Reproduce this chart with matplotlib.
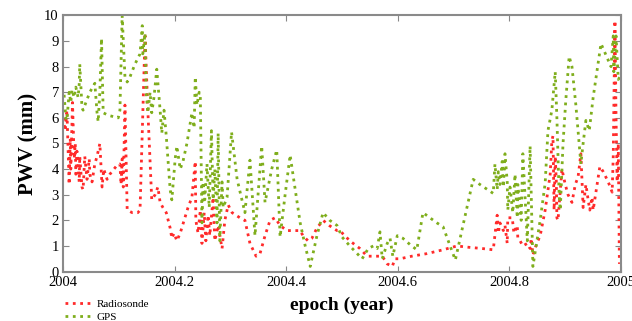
import numpy as np
import matplotlib
matplotlib.use('Agg')
import matplotlib.pyplot as plt

# 探空 (Radiosonde) PWV 序列
radio_t = [2004.000, 2004.004, 2004.007, 2004.011, 2004.013, 2004.014, 2004.017, 2004.020, 2004.022, 2004.023,
           2004.025, 2004.029, 2004.030, 2004.034, 2004.036, 2004.039, 2004.043, 2004.047, 2004.048, 2004.052,
           2004.057, 2004.061, 2004.066, 2004.070, 2004.073, 2004.079, 2004.084, 2004.095, 2004.102, 2004.104,
           2004.106, 2004.108, 2004.111, 2004.115, 2004.124, 2004.134, 2004.138, 2004.147, 2004.152, 2004.159,
           2004.165, 2004.170, 2004.174, 2004.179, 2004.185, 2004.192, 2004.195, 2004.199, 2004.204, 2004.210,
           2004.217, 2004.224, 2004.231, 2004.237, 2004.238, 2004.242, 2004.246, 2004.249, 2004.253, 2004.256,
           2004.260, 2004.263, 2004.269, 2004.272, 2004.278, 2004.285, 2004.290, 2004.296, 2004.303, 2004.310,
           2004.317, 2004.326, 2004.335, 2004.346, 2004.353, 2004.362, 2004.371, 2004.380, 2004.389, 2004.401,
           2004.425, 2004.430, 2004.439, 2004.446, 2004.455, 2004.466, 2004.477, 2004.491, 2004.496, 2004.514,
           2004.532, 2004.545, 2004.556, 2004.572, 2004.581, 2004.590, 2004.595, 2004.604, 2004.625, 2004.652,
           2004.681, 2004.706, 2004.726, 2004.751, 2004.771, 2004.778, 2004.780, 2004.783, 2004.789, 2004.792,
           2004.796, 2004.797, 2004.805, 2004.808, 2004.814, 2004.815, 2004.819, 2004.824, 2004.832, 2004.837,
           2004.839, 2004.842, 2004.849, 2004.855, 2004.864, 2004.873, 2004.876, 2004.878, 2004.880, 2004.882,
           2004.884, 2004.885, 2004.887, 2004.894, 2004.900, 2004.905, 2004.912, 2004.918, 2004.923, 2004.928,
           2004.932, 2004.937, 2004.941, 2004.944, 2004.948, 2004.950, 2004.957, 2004.962, 2004.968, 2004.977,
           2004.984, 2004.986, 2004.989, 2004.991, 2004.993, 2004.995, 2004.997]
radio_pwv = [6.0, 5.5, 6.3, 3.4, 5.2, 4.0, 6.6, 4.4, 5.0, 3.8,
             4.7, 3.5, 4.5, 3.3, 3.2, 4.5, 3.6, 4.4, 3.8, 3.5,
             4.2, 4.5, 5.0, 3.3, 4.0, 3.6, 3.8, 4.1, 4.2, 3.4,
             4.4, 3.3, 6.5, 2.4, 2.3, 2.3, 2.4, 9.2, 6.3, 2.8,
             3.0, 3.3, 2.7, 2.5, 2.3, 1.7, 1.3, 1.5, 1.2, 1.5,
             2.0, 2.5, 2.9, 4.3, 2.0, 1.5, 2.4, 1.1, 2.3, 1.2,
             2.2, 1.4, 2.9, 1.2, 1.8, 0.9, 2.0, 2.6, 2.3, 2.2,
             2.1, 2.0, 1.1, 0.6, 0.7, 1.4, 2.0, 2.1, 1.8, 1.6,
             1.6, 1.4, 1.2, 1.3, 1.7, 2.0, 1.8, 1.6, 1.6, 1.2,
             0.9, 0.6, 0.6, 0.6, 0.3, 0.2, 0.5, 0.5, 0.6, 0.7,
             0.85, 1.0, 0.95, 0.9, 0.85, 2.2, 1.5, 1.9, 1.6, 1.8,
             1.1, 2.1, 2.1, 1.5, 1.8, 1.3, 1.2, 1.0, 1.1, 0.9,
             1.3, 0.65, 1.1, 1.4, 2.4, 3.8, 5.1, 5.3, 2.4, 4.5,
             3.5, 2.1, 2.0, 4.0, 3.4, 3.0, 2.7, 3.4, 3.7, 4.6,
             2.5, 3.4, 2.8, 2.4, 2.9, 2.4, 3.4, 4.1, 3.9, 3.5,
             3.1, 4.5, 9.8, 6.0, 3.5, 5.0, 0.3]

# GPS 反演 PWV 序列
gps_t = [2004.002, 2004.005, 2004.007, 2004.011, 2004.014, 2004.016, 2004.020, 2004.023, 2004.027, 2004.029,
         2004.030, 2004.034, 2004.036, 2004.041, 2004.048, 2004.057, 2004.061, 2004.063, 2004.066, 2004.069,
         2004.072, 2004.081, 2004.090, 2004.099, 2004.102, 2004.106, 2004.111, 2004.115, 2004.120, 2004.129,
         2004.138, 2004.142, 2004.143, 2004.147, 2004.149, 2004.152, 2004.156, 2004.159, 2004.163, 2004.168,
         2004.174, 2004.177, 2004.181, 2004.185, 2004.192, 2004.195, 2004.201, 2004.204, 2004.210, 2004.215,
         2004.222, 2004.228, 2004.231, 2004.235, 2004.237, 2004.240, 2004.244, 2004.246, 2004.249, 2004.251,
         2004.254, 2004.258, 2004.262, 2004.266, 2004.269, 2004.272, 2004.276, 2004.278, 2004.281, 2004.285,
         2004.287, 2004.294, 2004.302, 2004.312, 2004.326, 2004.335, 2004.344, 2004.356, 2004.362, 2004.374,
         2004.383, 2004.389, 2004.398, 2004.407, 2004.412, 2004.425, 2004.434, 2004.443, 2004.455, 2004.466,
         2004.478, 2004.491, 2004.500, 2004.514, 2004.536, 2004.547, 2004.556, 2004.563, 2004.568, 2004.572,
         2004.581, 2004.586, 2004.591, 2004.599, 2004.609, 2004.622, 2004.634, 2004.645, 2004.670, 2004.681,
         2004.703, 2004.735, 2004.747, 2004.771, 2004.774, 2004.778, 2004.780, 2004.783, 2004.787, 2004.789,
         2004.792, 2004.796, 2004.797, 2004.801, 2004.806, 2004.810, 2004.814, 2004.815, 2004.821, 2004.824,
         2004.832, 2004.837, 2004.842, 2004.855, 2004.864, 2004.869, 2004.876, 2004.882, 2004.885, 2004.889,
         2004.891, 2004.896, 2004.901, 2004.907, 2004.912, 2004.919, 2004.928, 2004.932, 2004.937, 2004.943,
         2004.950, 2004.964, 2004.982, 2004.986, 2004.987, 2004.991, 2004.995, 2004.998]
gps_pwv = [6.9, 6.0, 5.9, 7.0, 6.6, 7.1, 6.8, 7.2, 6.8, 7.3,
           8.1, 6.4, 6.3, 6.6, 7.0, 7.35, 6.2, 5.85, 7.0, 9.1,
           6.2, 6.1, 6.05, 6.0, 6.3, 10.0, 7.6, 7.4, 7.6, 8.1,
           8.5, 9.6, 8.5, 9.3, 7.0, 6.2, 7.0, 6.2, 6.8, 7.9,
           6.3, 5.4, 6.3, 5.3, 3.2, 2.8, 4.4, 4.9, 4.0, 4.3,
           5.0, 5.8, 6.2, 5.6, 7.6, 6.5, 7.0, 6.9, 1.9, 3.5,
           2.8, 4.2, 2.5, 5.5, 2.8, 4.0, 1.9, 5.4, 1.2, 3.5,
           2.5, 2.9, 5.45, 3.6, 2.3, 4.35, 1.4, 4.9, 2.7, 4.0,
           4.75, 1.35, 3.0, 4.55, 3.8, 1.9, 1.0, 0.2, 1.4, 2.3,
           2.0, 1.8, 1.35, 1.0, 0.5, 0.9, 1.0, 0.9, 1.55, 0.5,
           1.1, 1.3, 0.6, 1.4, 1.3, 1.05, 0.85, 2.3, 1.9, 1.75,
           0.45, 3.6, 3.4, 3.05, 4.2, 3.2, 3.9, 3.4, 4.3, 3.3,
           4.6, 3.5, 2.4, 3.3, 2.3, 3.8, 2.1, 3.4, 2.0, 4.6,
           1.2, 4.9, 0.2, 2.0, 3.45, 5.5, 6.3, 7.8, 6.0, 3.0,
           2.4, 5.0, 6.7, 8.4, 8.0, 6.5, 4.2, 5.0, 5.9, 5.5,
           6.8, 8.9, 8.0, 9.2, 7.8, 9.2, 7.5, 7.6]

xticks = [2004, 2004.2, 2004.4, 2004.6, 2004.8, 2005]
xtick_labels = ['2004', '2004.2', '2004.4', '2004.6', '2004.8', '2005']

plt.rcParams['font.family'] = ['Liberation Serif', 'DejaVu Serif']

fig = plt.figure(figsize=(6.32, 3.21), dpi=100)
ax = fig.add_axes([0.0997, 0.154, 0.883, 0.798])

ax.plot(radio_t, radio_pwv, color='#ff2a2a', linestyle=':', linewidth=2.0, label='Radiosonde')
ax.plot(gps_t, gps_pwv, color='#7fae1c', linestyle=':', linewidth=2.0, label='GPS')

ax.set_xlim(2004, 2005)
ax.set_ylim(0, 10)
ax.set_xticks(xticks)
ax.set_xticklabels(xtick_labels)
ax.set_yticks(np.arange(0, 11, 1))
ax.tick_params(direction='in', top=True, right=True, labelsize=10.5, length=4, color='#888888', pad=3)
for s in ax.spines.values():
    s.set_color('#8a8a8a')
    s.set_linewidth(1.5)

ax.set_ylabel('PWV (mm)', fontsize=15, fontweight='bold', labelpad=4)
ax.set_xlabel('epoch (year)', fontsize=14, fontweight='bold', labelpad=6)

# 图例放在左下角，坐标轴外（下方被裁掉一部分，跟原图一样）
ax.legend(loc='upper left', bbox_to_anchor=(-0.005, -0.09), frameon=False, fontsize=8,
          handlelength=2.6, handletextpad=0.3, labelspacing=0.3, borderaxespad=0)

fig.savefig('out.png', dpi=100)
